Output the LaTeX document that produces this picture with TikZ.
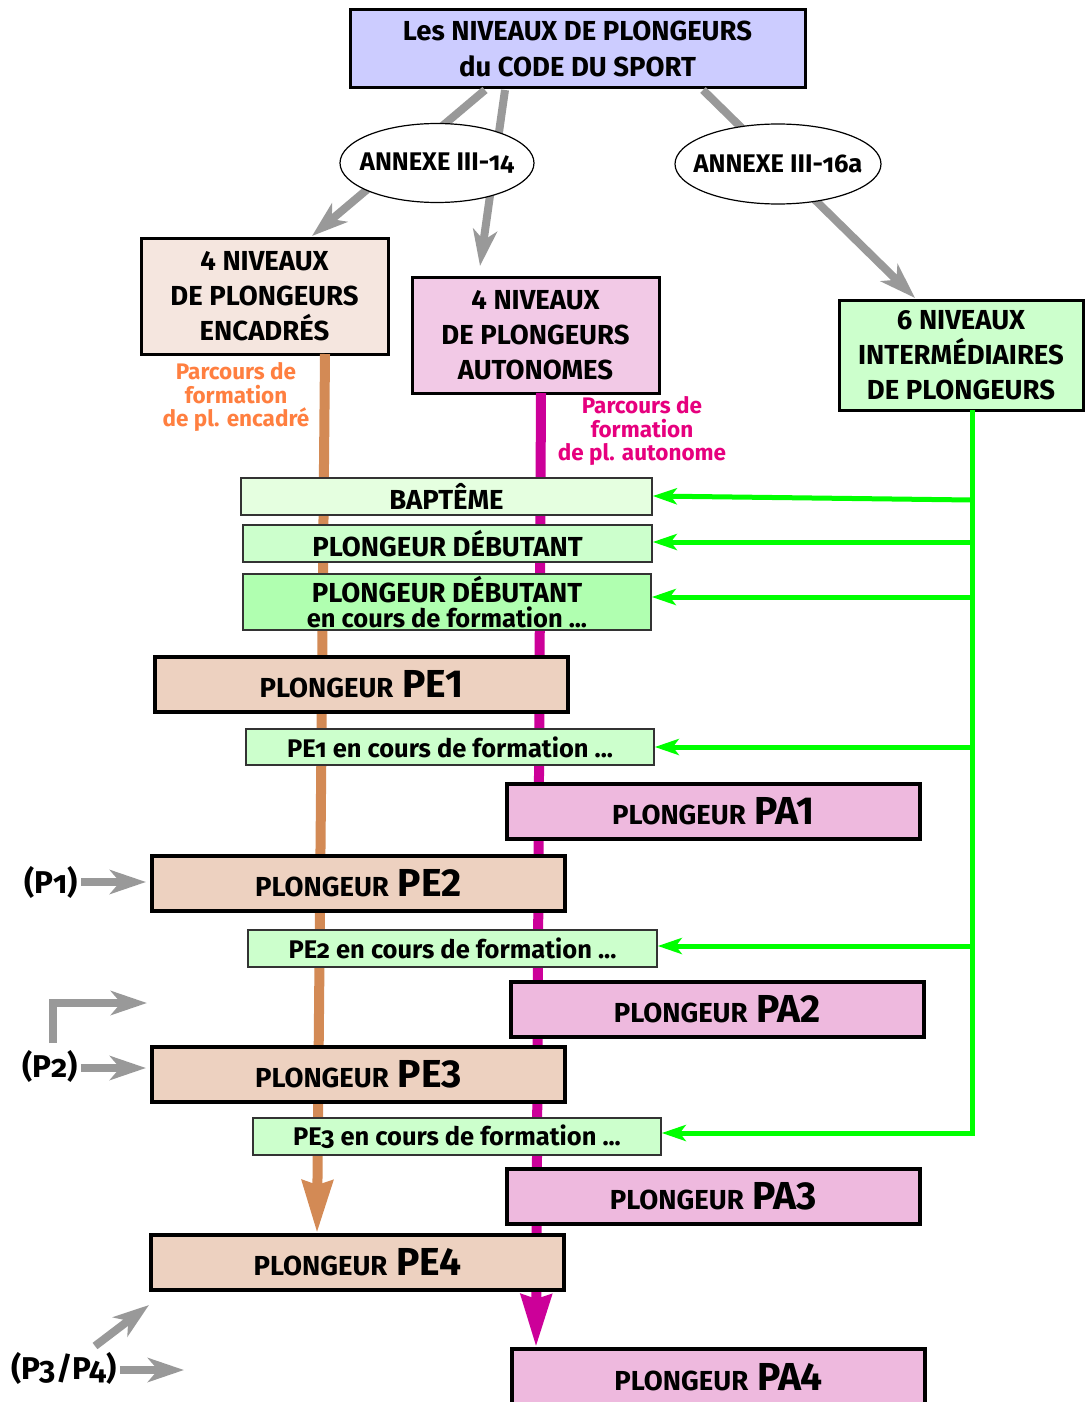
\documentclass[tikz,border=0pt]{standalone}
\usepackage{fontspec}
\usepackage{graphicx}
\setmainfont{Fira Sans}
\newfontfamily\osf{Fira Sans}[Numbers=OldStyle]
\usetikzlibrary{arrows.meta,shapes.geometric,calc}
\definecolor{topfill}{HTML}{CCCCFF}
\definecolor{encfill}{HTML}{F5E6DF}
\definecolor{autfill}{HTML}{F2C9E6}
\definecolor{intfill}{HTML}{CCFFCC}
\definecolor{baptfill}{HTML}{E5FFE0}
\definecolor{debfill}{HTML}{CCFFCC}
\definecolor{debffill}{HTML}{B0FFB0}
\definecolor{pefill}{HTML}{EDD1C0}
\definecolor{pafill}{HTML}{EEB9DE}
\definecolor{orline}{HTML}{D38A55}
\definecolor{ortext}{HTML}{FF7F40}
\definecolor{maline}{HTML}{CC0099}
\definecolor{matext}{HTML}{E6007E}
\definecolor{grline}{HTML}{00FF00}
\definecolor{gyline}{HTML}{999999}
\definecolor{thinbd}{HTML}{333333}
\tikzset{
  headbox/.style={draw=black, line width=3pt, align=center, inner sep=0pt, font=\bfseries\fontsize{27.5}{35}\selectfont},
  greenbox/.style={draw=thinbd, line width=1.5pt, align=center, inner sep=0pt, font=\bfseries\osf\fontsize{27.5}{26}\selectfont},
  smalltxt/.style={font=\bfseries\osf\fontsize{25.5}{26}\selectfont},
  levelbox/.style={draw=black, line width=4pt, inner sep=0pt, minimum width=413pt, minimum height=55pt, font=\bfseries},
  annex/.style={ellipse, draw=black, line width=1.2pt, fill=white, inner xsep=-12pt, inner ysep=0pt, font=\bfseries\osf\fontsize{25.5}{28}\selectfont},
  grayarrow/.style={draw=gyline, line width=8pt, -{Stealth[length=36pt,width=24pt,inset=10pt]}},
  greenarrow/.style={draw=grline, line width=5pt, -{Stealth[length=24pt,width=16pt,inset=6pt]}},
  plabel/.style={font=\bfseries\osf\fontsize{31.5}{34}\selectfont, inner sep=0pt},
  parcours/.style={align=center, font=\bfseries\fontsize{22.5}{23.5}\selectfont, inner sep=0pt}
}
\newcommand{\lvl}[1]{{\fontsize{27.5}{30}\selectfont PLONGEUR}\hspace{9pt}{\fontsize{39}{40}\selectfont #1}}
\begin{document}
\begin{tikzpicture}[x=1pt,y=-1pt]
\useasboundingbox (0,0) rectangle (1087,1402);
\begin{scope}
\clip (0,0) rectangle (1087,1402);
% top box
\node[headbox, fill=topfill, minimum width=455pt, minimum height=78pt, font=\bfseries\fontsize{27.5}{36}\selectfont] (top) at (577.5,49)
  {Les NIVEAUX DE PLONGEURS\\du CODE DU SPORT};
% coordinates for gray connectors
\coordinate (t1) at (485,90);
\coordinate (t2) at (505,90);
\coordinate (t3) at (703,90);
\coordinate (encTip) at (312,236);
\coordinate (autTip) at (480,266);
\coordinate (intTip) at (915,298);
\draw[grayarrow] (t1) -- (encTip);
\draw[grayarrow] (t2) -- (autTip);
\draw[grayarrow] (t3) -- (intTip);
\node[annex, minimum width=194pt, minimum height=79pt] (ann1) at (437,163) {ANNEXE III-14};
\node[annex, minimum width=206pt, minimum height=80pt] (ann2) at (778,164) {ANNEXE III-16a};
% headers
\node[headbox, fill=encfill, minimum width=247pt, minimum height=116pt] (enc) at (264.5,296)
  {4 NIVEAUX\\DE PLONGEURS\\ENCADRÉS};
\node[headbox, fill=autfill, minimum width=247pt, minimum height=116pt] (aut) at (535.5,335)
  {4 NIVEAUX\\DE PLONGEURS\\AUTONOMES};
\node[headbox, fill=intfill, minimum width=244pt, minimum height=110pt] (int) at (961,355)
  {6 NIVEAUX\\INTERMÉDIAIRES\\DE PLONGEURS};
% parcours lines
\coordinate (oA) at (325,354);
\coordinate (oB) at (317,1233);
\coordinate (mA) at (541,393);
\coordinate (mB) at (536,1347);
\draw[draw=orline, line width=10pt, -{Stealth[length=52pt,width=30pt,inset=4pt]}] (oA) -- (oB);
\draw[draw=maline, line width=10pt, -{Stealth[length=52pt,width=30pt,inset=4pt]}] (mA) -- (mB);
\node[parcours, text=ortext] (parcE) at (236,397) {Parcours de\\formation\\de pl. encadré};
\node[parcours, text=matext] (parcA) at (642,431) {Parcours de\\formation\\de pl. autonome};
% green boxes
\node[greenbox, fill=baptfill, minimum width=411pt, minimum height=37pt] (bapt) at (446.5,496.5) {BAPTÊME};
\node[greenbox, fill=debfill, minimum width=409pt, minimum height=37pt] (deb) at (447.5,543.5) {PLONGEUR DÉBUTANT};
\node[greenbox, fill=debffill, minimum width=408pt, minimum height=56pt] (debf) at (447,602)
  {PLONGEUR DÉBUTANT\\[-1pt]{\fontsize{25.5}{26}\selectfont en cours de formation ...}};
\node[greenbox, smalltxt, fill=debfill, minimum width=408pt, minimum height=36pt] (pe1f) at (450,747) {PE1 en cours de formation ...};
\node[greenbox, smalltxt, fill=debfill, minimum width=409pt, minimum height=37pt] (pe2f) at (452.5,948.5) {PE2 en cours de formation ...};
\node[greenbox, smalltxt, fill=debfill, minimum width=408pt, minimum height=37pt] (pe3f) at (457,1136.5) {PE3 en cours de formation ...};
% level boxes
\node[levelbox, fill=pefill] (pe1) at (361.5,684) {\lvl{PE1}};
\node[levelbox, fill=pafill] (pa1) at (713.5,811) {\lvl{PA1}};
\node[levelbox, fill=pefill] (pe2) at (358.5,883.5) {\lvl{PE2}};
\node[levelbox, fill=pafill] (pa2) at (717.5,1009) {\lvl{PA2}};
\node[levelbox, fill=pefill] (pe3) at (358.5,1074.5) {\lvl{PE3}};
\node[levelbox, fill=pafill] (pa3) at (713.5,1196.5) {\lvl{PA3}};
\node[levelbox, fill=pefill] (pe4) at (357.5,1262.5) {\lvl{PE4}};
\node[levelbox, fill=pafill, minimum height=57pt] (pa4) at (718.5,1377) {\lvl{PA4}};
% green connectors
\coordinate (gT) at (972,410);
\coordinate (g1) at (972,500);
\coordinate (g2) at (972,542);
\coordinate (g3) at (972,597);
\coordinate (g4) at (972,747);
\coordinate (g5) at (972,946);
\coordinate (gB) at (972,1133);
\draw[draw=grline, line width=5pt] (gT) -- (gB);
\draw[greenarrow] (g1) -- ([yshift=0.5pt]bapt.east);
\draw[greenarrow] (g2) -- (deb.east |- g2);
\draw[greenarrow] (g3) -- (debf.east |- g3);
\draw[greenarrow] (g4) -- (pe1f.east |- g4);
\draw[greenarrow] (g5) -- (pe2f.east |- g5);
\draw[greenarrow] ([xshift=2.5pt]gB) -- (pe3f.east |- gB);
% left labels
\node[plabel] (p1) at (51,882) {(P1)};
\node[plabel] (p2) at (50,1066) {(P2)};
\node[plabel] (p34) at (64,1368) {(P3/P4)};
\coordinate (p1tip) at (146,882);
\coordinate (p2tip) at (146,1068);
\coordinate (lA) at (53,1043);
\coordinate (lB) at (53,1003);
\coordinate (lTip) at (147,1003);
\coordinate (p34tip) at (184,1370);
\coordinate (dA) at (95,1346);
\coordinate (dTip) at (149,1305);
\draw[grayarrow] ([xshift=3pt]p1.east |- p1tip) -- (p1tip);
\draw[grayarrow] ([xshift=3pt]p2.east |- p2tip) -- (p2tip);
\draw[grayarrow] (lA) -- (lB) -- (lTip);
\draw[grayarrow] ([xshift=3pt]p34.east |- p34tip) -- (p34tip);
\draw[grayarrow] (dA) -- (dTip);
\end{scope}
\end{tikzpicture}
\end{document}
